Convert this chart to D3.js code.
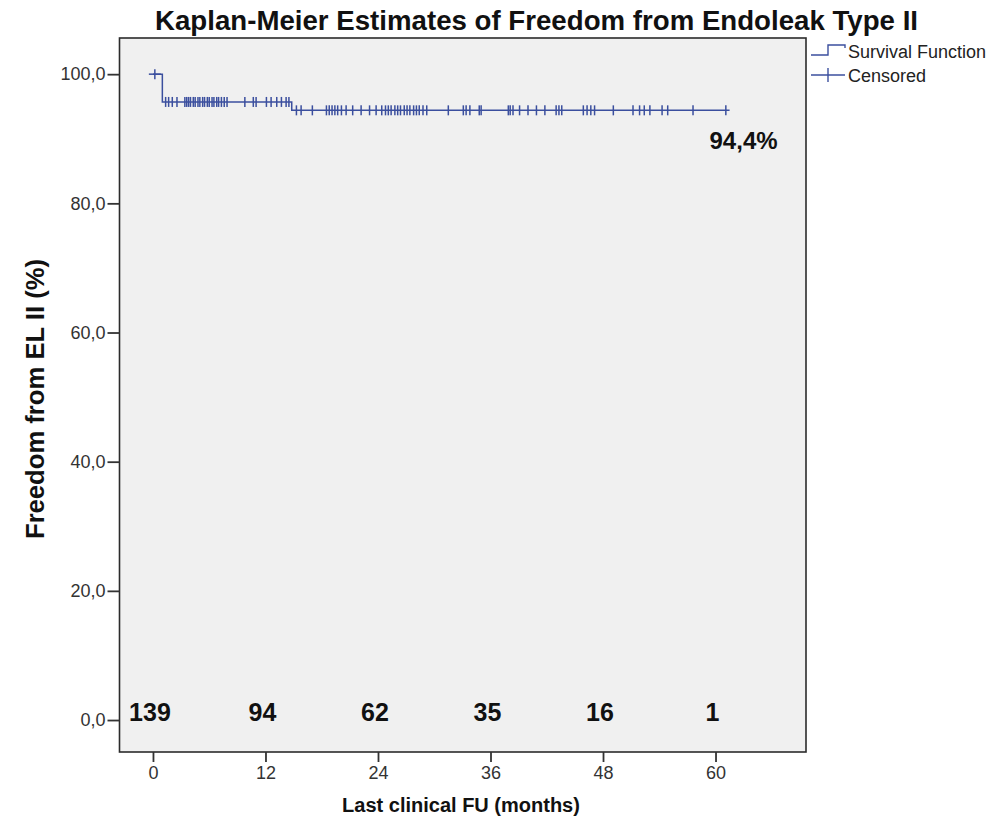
<!DOCTYPE html>
<html>
<head>
<meta charset="utf-8">
<script src="https://cdn.jsdelivr.net/npm/d3@7"></script>
<style>
  html, body { margin: 0; padding: 0; background: #ffffff; }
  svg { display: block; }
</style>
</head>
<body>
<svg id="chart" width="995" height="832"></svg>
<script>
// Kaplan-Meier step function: survival (%) from each step time onward
const stepTimes = [0, 1.0, 14.8];
const stepSurvival = [100, 95.7, 94.4];
const lastFollowUp = 61.5;

// Censored observations (months), grouped by the step they sit on
const censoredStep0 = [0.2];
const censoredStep1 = [1.35, 1.67, 2.06, 2.56, 3.4, 3.6, 3.8, 4.0, 4.3, 4.5, 4.8, 5.0, 5.3, 5.5,
  5.8, 6.0, 6.3, 6.5, 6.8, 7.0, 7.3, 7.6, 7.9, 9.8, 10.7, 11.0, 12.1, 12.6, 13.2, 13.7, 14.2, 14.5];
const censoredStep2 = [15.3, 15.8, 17.0, 18.5, 18.8, 19.1, 19.4, 19.7, 20.1, 20.6, 21.3, 22.2, 23.1,
  23.8, 24.4, 24.8, 25.1, 25.4, 25.8, 26.1, 26.4, 26.8, 27.1, 27.4, 27.8, 28.1, 28.4, 28.8, 29.2,
  31.5, 33.1, 33.4, 33.8, 34.8, 35.0, 37.9, 38.1, 38.4, 39.1, 40.0, 40.9, 41.8, 43.0, 43.3, 43.6,
  45.9, 46.3, 46.7, 47.1, 49.1, 51.2, 51.9, 52.4, 53.0, 54.3, 54.9, 57.6, 61.1];

// Axis ticks
const xTicks = [0, 12, 24, 36, 48, 60];
const yTicks = [0, 20, 40, 60, 80, 100];

// Number at risk at each x tick
const atRisk = [139, 94, 62, 35, 16, 1];

const finalLabel = "94,4%";
const title = "Kaplan-Meier Estimates of Freedom from Endoleak Type II";
const xTitle = "Last clinical FU (months)";
const yTitle = "Freedom from EL II (%)";
const legendItems = ["Survival Function", "Censored"];

const lineColor = "#3b4f9e";
const box = { left: 119.5, right: 806, top: 38, bottom: 752 };
const font = "'Liberation Sans', Arial, sans-serif";

const svg = d3.select("#chart");
const x = d3.scaleLinear().domain([-3.57, 69.65]).range([box.left, box.right]);
const y = d3.scaleLinear().domain([-4.95, 105.6]).range([box.bottom, box.top]);

// Plot background and frame
svg.append("rect")
  .attr("x", box.left).attr("y", box.top)
  .attr("width", box.right - box.left).attr("height", box.bottom - box.top)
  .attr("fill", "#f0f0f0").attr("stroke", "#2b2b2b").attr("stroke-width", 1.6);

// Axes
const fmt = d => d3.format(".1f")(d).replace(".", ",");
const yAxis = d3.axisLeft(y).tickValues(yTicks).tickFormat(fmt).tickSize(12).tickPadding(2);
const xAxis = d3.axisBottom(x).tickValues(xTicks).tickFormat(d3.format("d")).tickSize(10).tickPadding(4);

const gy = svg.append("g").attr("transform", `translate(${box.left},0)`).call(yAxis);
const gx = svg.append("g").attr("transform", `translate(0,${box.bottom})`).call(xAxis);
[gx, gy].forEach(g => {
  g.select(".domain").remove();
  g.selectAll(".tick line").attr("stroke", "#333").attr("stroke-width", 1.8);
  g.selectAll(".tick text").attr("fill", "#333")
    .style("font-family", font).style("font-size", "18px");
});

// Survival step curve
const stepData = stepTimes.map((t, i) => ({ t, s: stepSurvival[i] }));
stepData.push({ t: lastFollowUp, s: stepSurvival[stepSurvival.length - 1] });
const line = d3.line().x(d => x(d.t)).y(d => y(d.s)).curve(d3.curveStepAfter);
svg.append("path").datum(stepData)
  .attr("d", line).attr("fill", "none")
  .attr("stroke", lineColor).attr("stroke-width", 1.5);

// Censor ticks
const censorGroups = [censoredStep0, censoredStep1, censoredStep2];
censorGroups.forEach((times, i) => {
  svg.append("g").selectAll("line").data(times).join("line")
    .attr("x1", d => x(d)).attr("x2", d => x(d))
    .attr("y1", y(stepSurvival[i]) - 5).attr("y2", y(stepSurvival[i]) + 5)
    .attr("stroke", lineColor).attr("stroke-width", 1.5);
});
// horizontal arm for the first censored mark at 100%
svg.append("line")
  .attr("x1", x(censoredStep0[0]) - 6).attr("x2", x(censoredStep0[0]) + 6)
  .attr("y1", y(stepSurvival[0])).attr("y2", y(stepSurvival[0]))
  .attr("stroke", lineColor).attr("stroke-width", 1.5);

// Final estimate label
svg.append("text")
  .attr("x", x(lastFollowUp) + 48).attr("y", y(stepSurvival[2]) + 39)
  .attr("text-anchor", "end")
  .style("font-family", font).style("font-weight", "bold").style("font-size", "24px")
  .attr("fill", "#111").text(finalLabel);

// Numbers at risk
svg.append("g").selectAll("text").data(atRisk).join("text")
  .attr("x", (d, i) => x(xTicks[i]) - 3).attr("y", y(0) + 1)
  .attr("text-anchor", "middle")
  .style("font-family", font).style("font-weight", "bold").style("font-size", "25px")
  .attr("fill", "#111").text(d => d);

// Titles
svg.append("text").attr("x", 536.5).attr("y", 30).attr("text-anchor", "middle")
  .attr("textLength", 763).attr("lengthAdjust", "spacingAndGlyphs")
  .style("font-family", font).style("font-weight", "bold").style("font-size", "27px")
  .attr("fill", "#111").text(title);
svg.append("text").attr("x", 461).attr("y", 812).attr("text-anchor", "middle")
  .style("font-family", font).style("font-weight", "bold").style("font-size", "20px")
  .attr("fill", "#111").text(xTitle);
svg.append("text").attr("transform", "translate(44,399) rotate(-90)").attr("text-anchor", "middle")
  .attr("textLength", 280).attr("lengthAdjust", "spacingAndGlyphs")
  .style("font-family", font).style("font-weight", "bold").style("font-size", "25px")
  .attr("fill", "#111").text(yTitle);

// Legend
const lg = svg.append("g").attr("transform", "translate(811,0)");
lg.append("path").attr("d", "M0,55 H17 V45 H34 V48")
  .attr("fill", "none").attr("stroke", lineColor).attr("stroke-width", 1.4);
lg.append("line").attr("x1", 0).attr("x2", 34).attr("y1", 75).attr("y2", 75)
  .attr("stroke", lineColor).attr("stroke-width", 1.4);
lg.append("line").attr("x1", 17).attr("x2", 17).attr("y1", 68).attr("y2", 82)
  .attr("stroke", lineColor).attr("stroke-width", 1.4);
lg.selectAll("text").data(legendItems).join("text")
  .attr("x", 37).attr("y", (d, i) => 58 + i * 24)
  .style("font-family", font).style("font-size", "18px")
  .attr("fill", "#222").text(d => d);
</script>
</body>
</html>
